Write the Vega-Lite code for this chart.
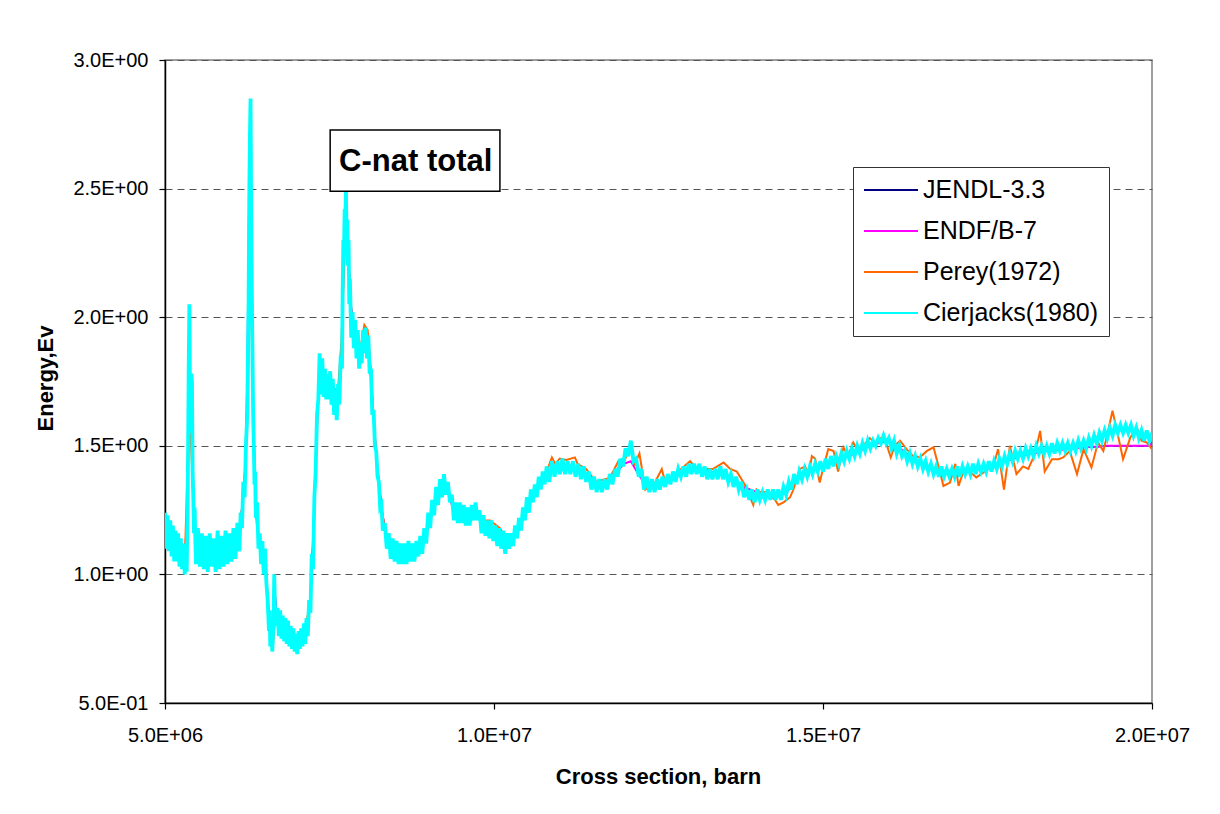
{
  "$schema": "https://vega.github.io/schema/vega-lite/v6.json",
  "width": 987,
  "height": 643,
  "autosize": "none",
  "padding": {"left": 165, "top": 60, "right": 68, "bottom": 111},
  "background": "#ffffff",
  "config": {
    "view": {"stroke": "#808080", "strokeWidth": 1.5},
    "font": "Liberation Sans",
    "axis": {
      "labelFont": "Liberation Sans",
      "labelFontSize": 20,
      "labelColor": "#000000",
      "titleFont": "Liberation Sans",
      "titleFontSize": 22,
      "titleFontWeight": "bold",
      "titleColor": "#000000",
      "domainColor": "#000000",
      "domainWidth": 1.5,
      "tickColor": "#000000",
      "tickWidth": 1.2,
      "tickSize": 6
    },
    "legend": {
      "orient": "none",
      "legendX": 688,
      "legendY": 107,
      "padding": 10,
      "strokeColor": "#333333",
      "fillColor": "#ffffff",
      "labelFont": "Liberation Sans",
      "labelFontSize": 25,
      "labelColor": "#000000",
      "labelOffset": 4,
      "labelLimit": 400,
      "symbolType": "stroke",
      "symbolSize": 2916,
      "symbolStrokeWidth": 2,
      "clipHeight": 26,
      "rowPadding": 15
    }
  },
  "datasets": {
    "jendl": [
      {"e":5.0,"s":1.17},{"e":5.1,"s":1.14},{"e":5.2,"s":1.10},{"e":5.3,"s":1.05},{"e":5.34,"s":1.25},{"e":5.37,"s":1.98},{"e":5.39,"s":1.60},{"e":5.41,"s":1.72},{"e":5.43,"s":1.30},{"e":5.46,"s":1.17},{"e":5.5,"s":1.12},{"e":5.7,"s":1.09},{"e":5.9,"s":1.09},{"e":6.05,"s":1.11},{"e":6.12,"s":1.14},{"e":6.18,"s":1.28},{"e":6.22,"s":1.42},{"e":6.26,"s":1.80},{"e":6.28,"s":2.45},{"e":6.30,"s":2.75},{"e":6.32,"s":2.15},{"e":6.34,"s":1.62},{"e":6.37,"s":1.35},{"e":6.40,"s":1.18},{"e":6.46,"s":1.09},{"e":6.53,"s":1.03},{"e":6.57,"s":0.85},{"e":6.61,"s":0.73},{"e":6.64,"s":0.74},{"e":6.67,"s":0.93},{"e":6.70,"s":0.83},{"e":6.8,"s":0.79},{"e":6.9,"s":0.77},{"e":7.0,"s":0.74},{"e":7.1,"s":0.77},{"e":7.18,"s":0.82},{"e":7.22,"s":0.95},{"e":7.26,"s":1.20},{"e":7.30,"s":1.52},{"e":7.34,"s":1.76},{"e":7.40,"s":1.77},{"e":7.50,"s":1.74},{"e":7.60,"s":1.68},{"e":7.66,"s":1.74},{"e":7.69,"s":1.88},{"e":7.72,"s":2.30},{"e":7.75,"s":2.45},{"e":7.78,"s":2.30},{"e":7.81,"s":2.10},{"e":7.85,"s":1.98},{"e":7.92,"s":1.92},{"e":7.97,"s":1.86},{"e":8.04,"s":1.92},{"e":8.10,"s":1.88},{"e":8.15,"s":1.68},{"e":8.20,"s":1.50},{"e":8.25,"s":1.36},{"e":8.30,"s":1.24},{"e":8.37,"s":1.14},{"e":8.47,"s":1.10},{"e":8.6,"s":1.08},{"e":8.8,"s":1.08},{"e":8.93,"s":1.12},{"e":9.03,"s":1.21},{"e":9.13,"s":1.31},{"e":9.23,"s":1.35},{"e":9.31,"s":1.32},{"e":9.38,"s":1.25},{"e":9.5,"s":1.24},{"e":9.6,"s":1.23},{"e":9.74,"s":1.25},{"e":9.85,"s":1.20},{"e":10.0,"s":1.17},{"e":10.15,"s":1.14},{"e":10.25,"s":1.13},{"e":10.35,"s":1.17},{"e":10.45,"s":1.23},{"e":10.6,"s":1.31},{"e":10.8,"s":1.38},{"e":10.95,"s":1.415},{"e":11.16,"s":1.415},{"e":11.36,"s":1.40},{"e":11.51,"s":1.36},{"e":11.66,"s":1.345},{"e":11.81,"s":1.38},{"e":11.97,"s":1.45},{"e":12.08,"s":1.48},{"e":12.17,"s":1.42},{"e":12.32,"s":1.357},{"e":12.47,"s":1.345},{"e":12.67,"s":1.36},{"e":12.88,"s":1.40},{"e":13.08,"s":1.41},{"e":13.28,"s":1.39},{"e":13.49,"s":1.39},{"e":13.69,"s":1.357},{"e":13.89,"s":1.31},{"e":14.09,"s":1.305},{"e":14.3,"s":1.305},{"e":14.45,"s":1.32},{"e":14.6,"s":1.37},{"e":14.8,"s":1.40},{"e":14.95,"s":1.416},{"e":15.21,"s":1.44},{"e":15.46,"s":1.468},{"e":15.71,"s":1.50},{"e":15.97,"s":1.52},{"e":16.17,"s":1.49},{"e":16.37,"s":1.45},{"e":16.58,"s":1.42},{"e":16.78,"s":1.40},{"e":16.98,"s":1.396},{"e":17.18,"s":1.40},{"e":17.39,"s":1.41},{"e":17.59,"s":1.42},{"e":17.79,"s":1.44},{"e":17.99,"s":1.46},{"e":18.19,"s":1.47},{"e":18.4,"s":1.48},{"e":18.6,"s":1.485},{"e":18.8,"s":1.49},{"e":19.0,"s":1.495},{"e":19.21,"s":1.497},{"e":19.31,"s":1.50},{"e":19.61,"s":1.50},{"e":19.81,"s":1.50},{"e":19.97,"s":1.50},{"e":20.0,"s":1.513}
    ],
    "endf": [
      {"e":5.0,"s":1.17},{"e":5.1,"s":1.14},{"e":5.2,"s":1.10},{"e":5.3,"s":1.05},{"e":5.34,"s":1.25},{"e":5.37,"s":1.98},{"e":5.39,"s":1.60},{"e":5.41,"s":1.72},{"e":5.43,"s":1.30},{"e":5.46,"s":1.17},{"e":5.5,"s":1.12},{"e":5.7,"s":1.09},{"e":5.9,"s":1.09},{"e":6.05,"s":1.11},{"e":6.12,"s":1.14},{"e":6.18,"s":1.28},{"e":6.22,"s":1.42},{"e":6.25,"s":1.75},{"e":6.28,"s":2.50},{"e":6.30,"s":2.70},{"e":6.32,"s":2.15},{"e":6.34,"s":1.62},{"e":6.37,"s":1.35},{"e":6.40,"s":1.18},{"e":6.46,"s":1.09},{"e":6.53,"s":1.03},{"e":6.57,"s":0.85},{"e":6.61,"s":0.73},{"e":6.64,"s":0.74},{"e":6.67,"s":0.93},{"e":6.70,"s":0.83},{"e":6.8,"s":0.79},{"e":6.9,"s":0.77},{"e":7.0,"s":0.74},{"e":7.1,"s":0.77},{"e":7.18,"s":0.82},{"e":7.22,"s":0.95},{"e":7.26,"s":1.20},{"e":7.29,"s":1.45},{"e":7.34,"s":1.76},{"e":7.40,"s":1.77},{"e":7.50,"s":1.74},{"e":7.60,"s":1.68},{"e":7.66,"s":1.74},{"e":7.69,"s":1.88},{"e":7.72,"s":2.30},{"e":7.75,"s":2.45},{"e":7.78,"s":2.30},{"e":7.81,"s":2.10},{"e":7.85,"s":1.98},{"e":7.92,"s":1.92},{"e":7.97,"s":1.86},{"e":8.04,"s":1.92},{"e":8.10,"s":1.88},{"e":8.15,"s":1.68},{"e":8.20,"s":1.50},{"e":8.25,"s":1.36},{"e":8.30,"s":1.24},{"e":8.37,"s":1.14},{"e":8.47,"s":1.10},{"e":8.6,"s":1.08},{"e":8.8,"s":1.08},{"e":8.93,"s":1.12},{"e":9.03,"s":1.21},{"e":9.13,"s":1.31},{"e":9.23,"s":1.35},{"e":9.31,"s":1.32},{"e":9.38,"s":1.25},{"e":9.5,"s":1.24},{"e":9.6,"s":1.23},{"e":9.74,"s":1.25},{"e":9.85,"s":1.20},{"e":10.0,"s":1.17},{"e":10.15,"s":1.14},{"e":10.25,"s":1.13},{"e":10.35,"s":1.17},{"e":10.45,"s":1.23},{"e":10.6,"s":1.31},{"e":10.8,"s":1.38},{"e":10.95,"s":1.41},{"e":11.16,"s":1.41},{"e":11.36,"s":1.39},{"e":11.51,"s":1.36},{"e":11.66,"s":1.345},{"e":11.81,"s":1.38},{"e":11.97,"s":1.43},{"e":12.08,"s":1.44},{"e":12.17,"s":1.40},{"e":12.32,"s":1.34},{"e":12.47,"s":1.345},{"e":12.67,"s":1.36},{"e":12.88,"s":1.40},{"e":13.08,"s":1.41},{"e":13.28,"s":1.40},{"e":13.49,"s":1.39},{"e":13.69,"s":1.35},{"e":13.89,"s":1.33},{"e":14.09,"s":1.31},{"e":14.3,"s":1.305},{"e":14.45,"s":1.32},{"e":14.6,"s":1.37},{"e":14.8,"s":1.40},{"e":14.95,"s":1.416},{"e":15.21,"s":1.44},{"e":15.46,"s":1.468},{"e":15.71,"s":1.50},{"e":15.97,"s":1.52},{"e":16.17,"s":1.49},{"e":16.37,"s":1.45},{"e":16.58,"s":1.42},{"e":16.78,"s":1.40},{"e":16.98,"s":1.396},{"e":17.18,"s":1.40},{"e":17.39,"s":1.41},{"e":17.59,"s":1.42},{"e":17.79,"s":1.44},{"e":17.99,"s":1.46},{"e":18.19,"s":1.47},{"e":18.4,"s":1.48},{"e":18.6,"s":1.485},{"e":18.8,"s":1.49},{"e":19.0,"s":1.495},{"e":19.21,"s":1.497},{"e":19.31,"s":1.50},{"e":19.61,"s":1.50},{"e":19.81,"s":1.50},{"e":19.97,"s":1.50},{"e":20.0,"s":1.513}
    ],
    "perey": [
      {"e":5.0,"s":1.17},{"e":5.1,"s":1.14},{"e":5.2,"s":1.10},{"e":5.3,"s":1.05},{"e":5.33,"s":1.30},{"e":5.36,"s":1.60},{"e":5.37,"s":1.95},{"e":5.39,"s":1.55},{"e":5.42,"s":1.35},{"e":5.46,"s":1.16},{"e":5.6,"s":1.10},{"e":5.8,"s":1.09},{"e":6.0,"s":1.10},{"e":6.12,"s":1.14},{"e":6.18,"s":1.28},{"e":6.22,"s":1.40},{"e":6.26,"s":1.70},{"e":6.29,"s":2.17},{"e":6.31,"s":2.05},{"e":6.34,"s":1.60},{"e":6.37,"s":1.35},{"e":6.40,"s":1.18},{"e":6.48,"s":1.09},{"e":6.53,"s":1.03},{"e":6.58,"s":0.85},{"e":6.61,"s":0.74},{"e":6.64,"s":0.72},{"e":6.68,"s":0.86},{"e":6.75,"s":0.80},{"e":6.85,"s":0.78},{"e":6.95,"s":0.74},{"e":7.0,"s":0.70},{"e":7.05,"s":0.72},{"e":7.12,"s":0.78},{"e":7.2,"s":0.88},{"e":7.25,"s":1.10},{"e":7.3,"s":1.50},{"e":7.34,"s":1.76},{"e":7.4,"s":1.76},{"e":7.5,"s":1.75},{"e":7.58,"s":1.72},{"e":7.63,"s":1.72},{"e":7.68,"s":1.90},{"e":7.72,"s":2.18},{"e":7.75,"s":2.38},{"e":7.78,"s":2.28},{"e":7.8,"s":2.17},{"e":7.84,"s":1.98},{"e":7.9,"s":1.92},{"e":7.97,"s":1.88},{"e":8.03,"s":1.97},{"e":8.08,"s":1.95},{"e":8.12,"s":1.82},{"e":8.17,"s":1.62},{"e":8.22,"s":1.43},{"e":8.28,"s":1.28},{"e":8.35,"s":1.16},{"e":8.45,"s":1.09},{"e":8.55,"s":1.06},{"e":8.7,"s":1.08},{"e":8.85,"s":1.09},{"e":8.95,"s":1.15},{"e":9.05,"s":1.23},{"e":9.15,"s":1.32},{"e":9.25,"s":1.36},{"e":9.33,"s":1.30},{"e":9.42,"s":1.24},{"e":9.55,"s":1.23},{"e":9.7,"s":1.25},{"e":9.82,"s":1.21},{"e":9.94,"s":1.21},{"e":10.09,"s":1.18},{"e":10.24,"s":1.12},{"e":10.4,"s":1.18},{"e":10.5,"s":1.27},{"e":10.65,"s":1.33},{"e":10.8,"s":1.40},{"e":10.88,"s":1.455},{"e":10.93,"s":1.43},{"e":11.0,"s":1.45},{"e":11.1,"s":1.445},{"e":11.23,"s":1.455},{"e":11.27,"s":1.43},{"e":11.4,"s":1.41},{"e":11.55,"s":1.36},{"e":11.69,"s":1.37},{"e":11.76,"s":1.375},{"e":11.81,"s":1.40},{"e":11.89,"s":1.44},{"e":11.94,"s":1.42},{"e":12.07,"s":1.49},{"e":12.14,"s":1.43},{"e":12.21,"s":1.47},{"e":12.3,"s":1.33},{"e":12.37,"s":1.345},{"e":12.42,"s":1.34},{"e":12.47,"s":1.37},{"e":12.55,"s":1.41},{"e":12.6,"s":1.36},{"e":12.68,"s":1.375},{"e":12.8,"s":1.40},{"e":12.98,"s":1.44},{"e":13.05,"s":1.42},{"e":13.18,"s":1.41},{"e":13.26,"s":1.41},{"e":13.33,"s":1.41},{"e":13.49,"s":1.435},{"e":13.59,"s":1.41},{"e":13.69,"s":1.40},{"e":13.81,"s":1.35},{"e":13.94,"s":1.27},{"e":13.99,"s":1.33},{"e":14.04,"s":1.32},{"e":14.14,"s":1.32},{"e":14.27,"s":1.29},{"e":14.32,"s":1.27},{"e":14.4,"s":1.28},{"e":14.5,"s":1.30},{"e":14.55,"s":1.33},{"e":14.65,"s":1.41},{"e":14.73,"s":1.42},{"e":14.78,"s":1.38},{"e":14.83,"s":1.46},{"e":14.88,"s":1.45},{"e":14.95,"s":1.357},{"e":15.0,"s":1.41},{"e":15.08,"s":1.487},{"e":15.16,"s":1.48},{"e":15.23,"s":1.40},{"e":15.31,"s":1.494},{"e":15.38,"s":1.46},{"e":15.46,"s":1.513},{"e":15.54,"s":1.48},{"e":15.61,"s":1.50},{"e":15.71,"s":1.53},{"e":15.79,"s":1.513},{"e":15.87,"s":1.53},{"e":15.94,"s":1.526},{"e":16.03,"s":1.455},{"e":16.09,"s":1.50},{"e":16.17,"s":1.52},{"e":16.27,"s":1.487},{"e":16.37,"s":1.46},{"e":16.47,"s":1.455},{"e":16.58,"s":1.48},{"e":16.68,"s":1.494},{"e":16.78,"s":1.396},{"e":16.83,"s":1.344},{"e":16.93,"s":1.357},{"e":17.01,"s":1.43},{"e":17.06,"s":1.344},{"e":17.13,"s":1.396},{"e":17.23,"s":1.40},{"e":17.33,"s":1.377},{"e":17.44,"s":1.396},{"e":17.51,"s":1.41},{"e":17.59,"s":1.42},{"e":17.66,"s":1.487},{"e":17.75,"s":1.33},{"e":17.84,"s":1.50},{"e":17.94,"s":1.39},{"e":18.04,"s":1.42},{"e":18.12,"s":1.41},{"e":18.22,"s":1.468},{"e":18.3,"s":1.558},{"e":18.37,"s":1.40},{"e":18.48,"s":1.448},{"e":18.58,"s":1.448},{"e":18.65,"s":1.455},{"e":18.75,"s":1.48},{"e":18.86,"s":1.39},{"e":18.96,"s":1.487},{"e":19.08,"s":1.416},{"e":19.18,"s":1.513},{"e":19.26,"s":1.48},{"e":19.31,"s":1.532},{"e":19.4,"s":1.636},{"e":19.49,"s":1.532},{"e":19.56,"s":1.448},{"e":19.67,"s":1.532},{"e":19.77,"s":1.57},{"e":19.84,"s":1.52},{"e":19.92,"s":1.513},{"e":20.0,"s":1.487}
    ],
    "cierjacks": [
      {"e":5.00,"s":1.24},{"e":5.02,"s":1.10},{"e":5.04,"s":1.23},{"e":5.06,"s":1.09},{"e":5.08,"s":1.21},{"e":5.10,"s":1.07},{"e":5.12,"s":1.19},{"e":5.14,"s":1.05},{"e":5.16,"s":1.17},{"e":5.18,"s":1.05},{"e":5.20,"s":1.16},{"e":5.22,"s":1.03},{"e":5.24,"s":1.14},{"e":5.26,"s":1.02},{"e":5.28,"s":1.12},{"e":5.30,"s":1.00},{"e":5.32,"s":1.08},{"e":5.33,"s":1.01},
      {"e":5.34,"s":1.20},{"e":5.35,"s":1.45},{"e":5.36,"s":1.80},{"e":5.37,"s":2.05},{"e":5.38,"s":1.70},{"e":5.39,"s":1.55},{"e":5.40,"s":1.78},{"e":5.41,"s":1.75},{"e":5.42,"s":1.40},{"e":5.43,"s":1.30},{"e":5.44,"s":1.16},{"e":5.45,"s":1.26},
      {"e":5.47,"s":1.04},{"e":5.50,"s":1.18},{"e":5.53,"s":1.03},{"e":5.56,"s":1.16},{"e":5.59,"s":1.02},{"e":5.62,"s":1.15},{"e":5.65,"s":1.01},{"e":5.68,"s":1.16},{"e":5.71,"s":1.03},{"e":5.74,"s":1.14},{"e":5.77,"s":1.01},{"e":5.80,"s":1.17},{"e":5.83,"s":1.02},{"e":5.86,"s":1.15},{"e":5.89,"s":1.03},{"e":5.92,"s":1.17},{"e":5.95,"s":1.04},{"e":5.98,"s":1.16},{"e":6.01,"s":1.05},{"e":6.04,"s":1.18},{"e":6.07,"s":1.06},{"e":6.10,"s":1.20},{"e":6.13,"s":1.09},{"e":6.15,"s":1.24},{"e":6.17,"s":1.18},{"e":6.19,"s":1.36},{"e":6.21,"s":1.30},{"e":6.23,"s":1.50},
      {"e":6.25,"s":1.62},{"e":6.26,"s":1.85},{"e":6.27,"s":2.05},{"e":6.28,"s":2.45},{"e":6.29,"s":2.70},{"e":6.30,"s":2.85},{"e":6.31,"s":2.40},{"e":6.32,"s":2.10},{"e":6.33,"s":1.85},{"e":6.34,"s":1.62},{"e":6.35,"s":1.50},{"e":6.36,"s":1.35},{"e":6.37,"s":1.40},{"e":6.38,"s":1.22},{"e":6.40,"s":1.28},{"e":6.42,"s":1.10},{"e":6.44,"s":1.16},{"e":6.46,"s":1.04},{"e":6.48,"s":1.13},{"e":6.50,"s":1.00},{"e":6.52,"s":1.10},{"e":6.54,"s":0.97},{"e":6.56,"s":0.90},{"e":6.58,"s":0.78},{"e":6.59,"s":0.86},{"e":6.60,"s":0.72},{"e":6.62,"s":0.78},{"e":6.63,"s":0.70},{"e":6.65,"s":0.82},{"e":6.66,"s":1.00},{"e":6.67,"s":0.88},
      {"e":6.69,"s":0.80},{"e":6.71,"s":0.87},{"e":6.73,"s":0.76},{"e":6.75,"s":0.86},{"e":6.77,"s":0.75},{"e":6.79,"s":0.84},{"e":6.81,"s":0.74},{"e":6.83,"s":0.83},{"e":6.85,"s":0.73},{"e":6.87,"s":0.82},{"e":6.89,"s":0.72},{"e":6.91,"s":0.80},{"e":6.93,"s":0.71},{"e":6.95,"s":0.79},{"e":6.97,"s":0.70},{"e":6.99,"s":0.77},{"e":7.01,"s":0.69},{"e":7.03,"s":0.78},{"e":7.05,"s":0.71},{"e":7.07,"s":0.79},{"e":7.09,"s":0.72},{"e":7.11,"s":0.81},{"e":7.13,"s":0.73},{"e":7.15,"s":0.83},{"e":7.17,"s":0.76},{"e":7.19,"s":0.90},{"e":7.21,"s":0.85},{"e":7.23,"s":1.08},{"e":7.25,"s":1.02},{"e":7.27,"s":1.30},{"e":7.29,"s":1.40},{"e":7.31,"s":1.62},{"e":7.33,"s":1.68},
      {"e":7.35,"s":1.86},{"e":7.37,"s":1.70},{"e":7.39,"s":1.84},{"e":7.41,"s":1.69},{"e":7.43,"s":1.80},{"e":7.45,"s":1.68},{"e":7.47,"s":1.78},{"e":7.49,"s":1.68},{"e":7.51,"s":1.79},{"e":7.53,"s":1.66},{"e":7.55,"s":1.76},{"e":7.57,"s":1.62},{"e":7.59,"s":1.72},{"e":7.61,"s":1.60},{"e":7.63,"s":1.74},{"e":7.65,"s":1.66},{"e":7.67,"s":1.85},{"e":7.69,"s":1.80},{"e":7.70,"s":2.10},{"e":7.71,"s":2.30},{"e":7.72,"s":2.25},{"e":7.73,"s":2.42},{"e":7.74,"s":2.38},{"e":7.75,"s":2.50},{"e":7.76,"s":2.30},{"e":7.77,"s":2.38},{"e":7.78,"s":2.20},{"e":7.79,"s":2.30},{"e":7.80,"s":2.05},{"e":7.81,"s":2.15},
      {"e":7.83,"s":1.92},{"e":7.85,"s":2.02},{"e":7.87,"s":1.88},{"e":7.89,"s":1.99},{"e":7.91,"s":1.84},{"e":7.93,"s":1.95},{"e":7.95,"s":1.80},{"e":7.97,"s":1.90},{"e":7.99,"s":1.82},{"e":8.01,"s":1.95},{"e":8.03,"s":1.86},{"e":8.05,"s":1.96},{"e":8.07,"s":1.84},{"e":8.09,"s":1.93},{"e":8.11,"s":1.78},{"e":8.13,"s":1.80},{"e":8.15,"s":1.62},{"e":8.17,"s":1.64},{"e":8.19,"s":1.50},{"e":8.21,"s":1.48},{"e":8.23,"s":1.38},{"e":8.25,"s":1.36},{"e":8.27,"s":1.26},{"e":8.29,"s":1.27},{"e":8.31,"s":1.17},{"e":8.34,"s":1.20},{"e":8.37,"s":1.10},{"e":8.40,"s":1.16},{"e":8.43,"s":1.06},{"e":8.46,"s":1.14},{"e":8.49,"s":1.05},{"e":8.52,"s":1.13},{"e":8.55,"s":1.04},{"e":8.58,"s":1.12},{"e":8.61,"s":1.04},{"e":8.64,"s":1.12},{"e":8.67,"s":1.04},{"e":8.70,"s":1.13},{"e":8.73,"s":1.05},{"e":8.76,"s":1.12},{"e":8.79,"s":1.05},{"e":8.82,"s":1.13},{"e":8.85,"s":1.07},{"e":8.88,"s":1.15},{"e":8.91,"s":1.08},{"e":8.94,"s":1.18},{"e":8.97,"s":1.12},{"e":9.00,"s":1.24},
      {"e":9.03,"s":1.18},{"e":9.06,"s":1.29},{"e":9.09,"s":1.23},{"e":9.12,"s":1.34},{"e":9.15,"s":1.27},{"e":9.18,"s":1.37},{"e":9.21,"s":1.30},{"e":9.24,"s":1.39},{"e":9.27,"s":1.31},{"e":9.30,"s":1.36},{"e":9.33,"s":1.28},{"e":9.36,"s":1.31},{"e":9.39,"s":1.21},{"e":9.42,"s":1.28},{"e":9.45,"s":1.20},{"e":9.48,"s":1.28},{"e":9.51,"s":1.20},{"e":9.54,"s":1.27},{"e":9.57,"s":1.19},{"e":9.60,"s":1.26},{"e":9.63,"s":1.19},{"e":9.66,"s":1.27},{"e":9.69,"s":1.21},{"e":9.72,"s":1.28},{"e":9.75,"s":1.21},{"e":9.78,"s":1.25},{"e":9.81,"s":1.16},{"e":9.84,"s":1.23},{"e":9.87,"s":1.15},{"e":9.90,"s":1.21},{"e":9.93,"s":1.14},{"e":9.96,"s":1.21},{"e":9.99,"s":1.13},{"e":10.02,"s":1.19},{"e":10.05,"s":1.11},{"e":10.08,"s":1.18},{"e":10.11,"s":1.10},{"e":10.14,"s":1.17},{"e":10.17,"s":1.08},{"e":10.20,"s":1.16},{"e":10.23,"s":1.10},{"e":10.26,"s":1.16},{"e":10.29,"s":1.11},{"e":10.32,"s":1.19},{"e":10.35,"s":1.14},{"e":10.38,"s":1.22},{"e":10.41,"s":1.17},{"e":10.44,"s":1.26},{"e":10.47,"s":1.21},{"e":10.50,"s":1.30},{"e":10.53,"s":1.24},{"e":10.56,"s":1.33},{"e":10.59,"s":1.28},{"e":10.62,"s":1.35},{"e":10.65,"s":1.30},{"e":10.68,"s":1.38},{"e":10.71,"s":1.33},{"e":10.74,"s":1.40},{"e":10.77,"s":1.35},{"e":10.80,"s":1.42},
      {"e":10.84,"s":1.36},{"e":10.88,"s":1.44},{"e":10.92,"s":1.38},{"e":10.96,"s":1.44},{"e":11.00,"s":1.39},{"e":11.04,"s":1.45},{"e":11.08,"s":1.39},{"e":11.12,"s":1.44},{"e":11.16,"s":1.39},{"e":11.20,"s":1.44},{"e":11.24,"s":1.38},{"e":11.28,"s":1.43},{"e":11.32,"s":1.37},{"e":11.36,"s":1.42},{"e":11.40,"s":1.36},{"e":11.44,"s":1.40},{"e":11.48,"s":1.33},{"e":11.52,"s":1.38},{"e":11.56,"s":1.32},{"e":11.60,"s":1.37},{"e":11.64,"s":1.32},{"e":11.68,"s":1.37},{"e":11.72,"s":1.33},{"e":11.76,"s":1.39},{"e":11.80,"s":1.35},{"e":11.84,"s":1.41},{"e":11.88,"s":1.38},{"e":11.92,"s":1.45},{"e":11.96,"s":1.42},{"e":12.00,"s":1.49},{"e":12.04,"s":1.46},{"e":12.08,"s":1.52},{"e":12.12,"s":1.44},{"e":12.16,"s":1.45},{"e":12.20,"s":1.38},{"e":12.24,"s":1.41},{"e":12.28,"s":1.33},{"e":12.32,"s":1.38},{"e":12.36,"s":1.32},{"e":12.40,"s":1.37},{"e":12.44,"s":1.32},{"e":12.48,"s":1.37},{"e":12.52,"s":1.33},{"e":12.56,"s":1.38},{"e":12.60,"s":1.34},{"e":12.64,"s":1.39},{"e":12.68,"s":1.35},{"e":12.72,"s":1.40},{"e":12.76,"s":1.36},{"e":12.80,"s":1.41},{"e":12.84,"s":1.38},{"e":12.88,"s":1.42},{"e":12.92,"s":1.38},{"e":12.96,"s":1.43},{"e":13.00,"s":1.39},{"e":13.04,"s":1.43},{"e":13.08,"s":1.39},{"e":13.12,"s":1.43},{"e":13.16,"s":1.38},{"e":13.20,"s":1.42},{"e":13.24,"s":1.37},{"e":13.28,"s":1.41},{"e":13.32,"s":1.37},{"e":13.36,"s":1.41},{"e":13.40,"s":1.37},{"e":13.44,"s":1.42},{"e":13.48,"s":1.37},{"e":13.52,"s":1.41},{"e":13.56,"s":1.36},{"e":13.60,"s":1.39},{"e":13.64,"s":1.34},{"e":13.68,"s":1.38},{"e":13.72,"s":1.33},{"e":13.76,"s":1.36},{"e":13.80,"s":1.30},{"e":13.84,"s":1.33},{"e":13.88,"s":1.29},{"e":13.92,"s":1.33},{"e":13.96,"s":1.28},{"e":14.00,"s":1.33},{"e":14.04,"s":1.29},{"e":14.08,"s":1.32},{"e":14.12,"s":1.29},{"e":14.16,"s":1.33},{"e":14.20,"s":1.29},{"e":14.24,"s":1.33},{"e":14.28,"s":1.29},{"e":14.32,"s":1.33},{"e":14.36,"s":1.29},{"e":14.40,"s":1.34},{"e":14.44,"s":1.31},{"e":14.48,"s":1.36},{"e":14.52,"s":1.33},{"e":14.56,"s":1.39},{"e":14.60,"s":1.35},{"e":14.64,"s":1.40},{"e":14.68,"s":1.37},{"e":14.72,"s":1.41},{"e":14.76,"s":1.38},{"e":14.80,"s":1.42},{"e":14.84,"s":1.39},{"e":14.88,"s":1.43},{"e":14.92,"s":1.40},{"e":14.96,"s":1.44},
      {"e":15.00,"s":1.40},{"e":15.04,"s":1.45},{"e":15.08,"s":1.41},{"e":15.12,"s":1.46},{"e":15.16,"s":1.42},{"e":15.20,"s":1.46},{"e":15.24,"s":1.43},{"e":15.28,"s":1.47},{"e":15.32,"s":1.44},{"e":15.36,"s":1.48},{"e":15.40,"s":1.45},{"e":15.44,"s":1.49},{"e":15.48,"s":1.46},{"e":15.52,"s":1.50},{"e":15.56,"s":1.47},{"e":15.60,"s":1.51},{"e":15.64,"s":1.48},{"e":15.68,"s":1.52},{"e":15.72,"s":1.49},{"e":15.76,"s":1.52},{"e":15.80,"s":1.50},{"e":15.84,"s":1.53},{"e":15.88,"s":1.51},{"e":15.92,"s":1.54},{"e":15.96,"s":1.51},{"e":16.00,"s":1.53},{"e":16.04,"s":1.49},{"e":16.08,"s":1.52},{"e":16.12,"s":1.47},{"e":16.16,"s":1.50},{"e":16.20,"s":1.46},{"e":16.24,"s":1.48},{"e":16.28,"s":1.44},{"e":16.32,"s":1.47},{"e":16.36,"s":1.43},{"e":16.40,"s":1.46},{"e":16.44,"s":1.42},{"e":16.48,"s":1.45},{"e":16.52,"s":1.41},{"e":16.56,"s":1.44},{"e":16.60,"s":1.40},{"e":16.64,"s":1.43},{"e":16.68,"s":1.39},{"e":16.72,"s":1.42},{"e":16.76,"s":1.38},{"e":16.80,"s":1.42},{"e":16.84,"s":1.38},{"e":16.88,"s":1.41},{"e":16.92,"s":1.38},{"e":16.96,"s":1.41},{"e":17.00,"s":1.38},{"e":17.04,"s":1.42},{"e":17.08,"s":1.38},{"e":17.12,"s":1.42},{"e":17.16,"s":1.39},{"e":17.20,"s":1.42},{"e":17.24,"s":1.39},{"e":17.28,"s":1.43},{"e":17.32,"s":1.39},{"e":17.36,"s":1.43},{"e":17.40,"s":1.40},{"e":17.44,"s":1.43},{"e":17.48,"s":1.40},{"e":17.52,"s":1.44},{"e":17.56,"s":1.40},{"e":17.60,"s":1.44},{"e":17.64,"s":1.41},{"e":17.68,"s":1.45},{"e":17.72,"s":1.42},{"e":17.76,"s":1.46},{"e":17.80,"s":1.43},{"e":17.84,"s":1.47},{"e":17.88,"s":1.44},{"e":17.92,"s":1.48},{"e":17.96,"s":1.45},{"e":18.00,"s":1.48},{"e":18.04,"s":1.45},{"e":18.08,"s":1.49},{"e":18.12,"s":1.46},{"e":18.16,"s":1.49},{"e":18.20,"s":1.46},{"e":18.24,"s":1.50},{"e":18.28,"s":1.47},{"e":18.32,"s":1.50},{"e":18.36,"s":1.47},{"e":18.40,"s":1.50},{"e":18.44,"s":1.47},{"e":18.48,"s":1.51},{"e":18.52,"s":1.47},{"e":18.56,"s":1.51},{"e":18.60,"s":1.48},{"e":18.64,"s":1.51},{"e":18.68,"s":1.48},{"e":18.72,"s":1.51},{"e":18.76,"s":1.48},{"e":18.80,"s":1.51},{"e":18.84,"s":1.48},{"e":18.88,"s":1.52},{"e":18.92,"s":1.49},{"e":18.96,"s":1.52},{"e":19.00,"s":1.49},{"e":19.04,"s":1.53},{"e":19.08,"s":1.50},{"e":19.12,"s":1.54},{"e":19.16,"s":1.51},{"e":19.20,"s":1.55},{"e":19.24,"s":1.52},{"e":19.28,"s":1.56},{"e":19.32,"s":1.53},{"e":19.36,"s":1.57},{"e":19.40,"s":1.54},{"e":19.44,"s":1.58},{"e":19.48,"s":1.55},{"e":19.52,"s":1.58},{"e":19.56,"s":1.55},{"e":19.60,"s":1.58},{"e":19.64,"s":1.55},{"e":19.68,"s":1.58},{"e":19.72,"s":1.54},{"e":19.76,"s":1.57},{"e":19.80,"s":1.53},{"e":19.84,"s":1.56},{"e":19.88,"s":1.52},{"e":19.92,"s":1.56},{"e":19.96,"s":1.52},{"e":20.00,"s":1.55}
    ]
  },
  "layer": [
    {
      "encoding": {
        "x": {
          "field": "e",
          "type": "quantitative",
          "title": "Cross section, barn",
          "scale": {"domain": [5, 20], "nice": false, "zero": false},
          "axis": {
            "values": [5, 10, 15, 20],
            "grid": false,
            "labelFlush": false,
            "labelExpr": "datum.value < 10 ? format(datum.value, '.1f') + 'E+06' : format(datum.value / 10, '.1f') + 'E+07'",
            "labelPadding": 16,
            "labelBaseline": "top",
            "titleBaseline": "alphabetic",
            "titleY": 80,
            "titleX": 493
          }
        },
        "y": {
          "field": "s",
          "type": "quantitative",
          "title": "Energy,Ev",
          "scale": {"domain": [0.5, 3], "nice": false, "zero": false},
          "axis": {
            "values": [0.5, 1, 1.5, 2, 2.5, 3],
            "grid": true,
            "gridColor": "#555555",
            "gridDash": [7, 5],
            "gridWidth": 1.2,
            "labelFlush": false,
            "labelExpr": "datum.value < 1 ? format(datum.value * 10, '.1f') + 'E-01' : format(datum.value, '.1f') + 'E+00'",
            "labelPadding": 11,
            "titleBaseline": "alphabetic",
            "titleAngle": -90,
            "titleX": -113,
            "titleY": 318
          }
        }
      },
      "layer": [
        {
          "data": {"name": "jendl"},
          "mark": {"type": "line", "strokeWidth": 1.5, "clip": true},
          "encoding": {
            "color": {
              "datum": "JENDL-3.3",
              "type": "nominal",
              "scale": {
                "domain": ["JENDL-3.3", "ENDF/B-7", "Perey(1972)", "Cierjacks(1980)"],
                "range": ["#000080", "#ff00ff", "#ff6600", "#00ffff"]
              },
              "legend": {"title": null}
            }
          }
        },
        {
          "data": {"name": "endf"},
          "mark": {"type": "line", "strokeWidth": 2, "clip": true},
          "encoding": {"color": {"datum": "ENDF/B-7", "type": "nominal"}}
        },
        {
          "data": {"name": "perey"},
          "mark": {"type": "line", "strokeWidth": 2, "clip": true},
          "encoding": {"color": {"datum": "Perey(1972)", "type": "nominal"}}
        },
        {
          "data": {"name": "cierjacks"},
          "mark": {"type": "line", "strokeWidth": 3.8, "clip": true},
          "encoding": {"color": {"datum": "Cierjacks(1980)", "type": "nominal"}}
        }
      ]
    },
    {
      "data": {"values": [{}]},
      "mark": {"type": "rect", "fill": "#ffffff", "stroke": "#000000", "strokeWidth": 1.5},
      "encoding": {
        "x": {"datum": 7.51, "type": "quantitative"},
        "x2": {"datum": 10.09},
        "y": {"datum": 2.728, "type": "quantitative"},
        "y2": {"datum": 2.49}
      }
    },
    {
      "data": {"values": [{}]},
      "mark": {"type": "text", "text": "C-nat total", "font": "Liberation Sans", "fontSize": 31, "fontWeight": "bold", "align": "center", "baseline": "middle", "color": "#000000"},
      "encoding": {
        "x": {"datum": 8.81, "type": "quantitative"},
        "y": {"datum": 2.605, "type": "quantitative"}
      }
    }
  ]
}
